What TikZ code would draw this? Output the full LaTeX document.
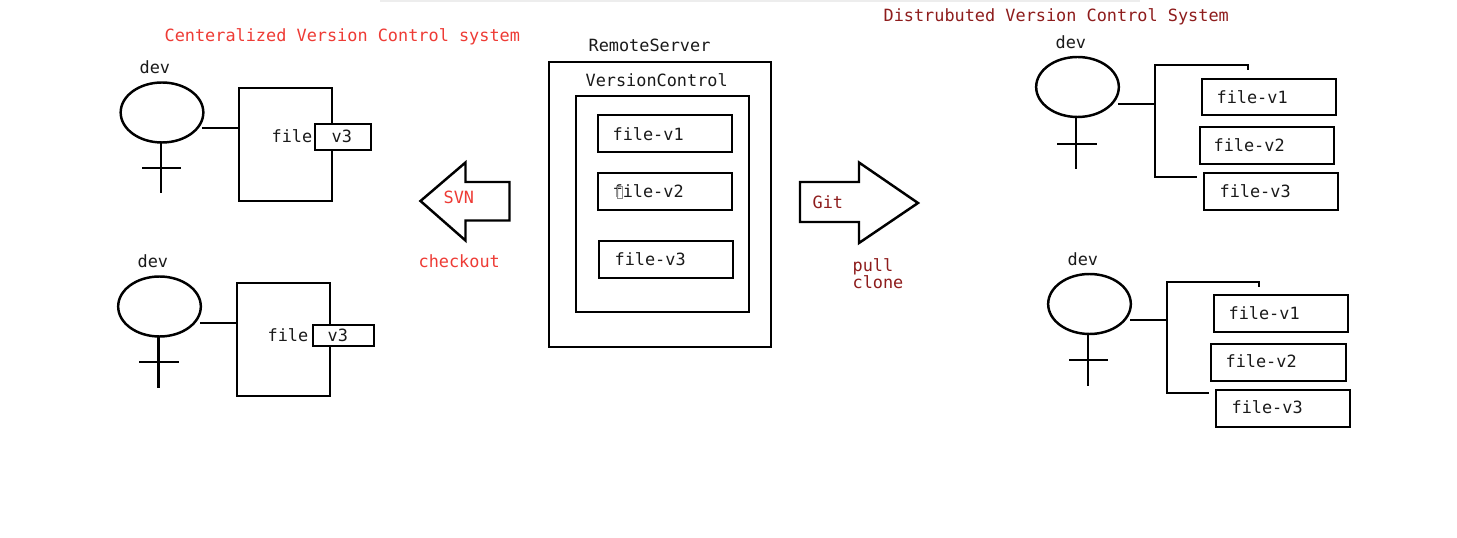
\documentclass[tikz,border=0pt]{standalone}
\usepackage{fontspec}
\setmonofont{DejaVu Sans Mono}
\usetikzlibrary{shapes.geometric}
\definecolor{titlered}{HTML}{EE3B35}
\definecolor{darkred}{HTML}{8E1C1C}
\definecolor{inkblack}{HTML}{1A1A1A}
\tikzset{
  bx/.style={draw=black,fill=white,line width=1.85pt,rectangle,inner sep=0pt,outer sep=0pt},
  head/.style={draw=black,line width=1.85pt,ellipse,inner sep=0pt,outer sep=0pt,minimum width=62pt,minimum height=45pt},
  wire/.style={draw=black,line width=1.85pt},
  lbl/.style={anchor=base west,inner sep=0pt,outer sep=0pt,xshift=-0.3pt,yshift=-0.4pt,font=\ttfamily\fontsize{12.65}{14}\selectfont,text=inkblack},
  redl/.style={lbl,text=titlered},
  darkl/.style={lbl,text=darkred},
  bigarrow/.style={draw=black,fill=white,line width=1.85pt,line join=miter}
}
\newcommand{\pxbox}[5]{%
  \pgfmathsetlengthmacro{\pxw}{0.75pt*(#4-#2)}%
  \pgfmathsetlengthmacro{\pxh}{0.75pt*(#5-#3)}%
  \node[bx,minimum width=\pxw,minimum height=\pxh] (#1) at ({(#2+#4)/2},{(#3+#5)/2}) {};}
% name, head centre x, y, stem x, stem foot y, cross left x, cross right x, cross y
\newcommand{\person}[8]{%
  \node[head] (#1) at (#2,#3) {};
  \coordinate (#1foot) at (#4,#5);
  \coordinate (#1cl) at (#6,#8);
  \coordinate (#1cr) at (#7,#8);
  \draw[wire] (#1.south -| #1foot) -- (#1foot);
  \draw[wire] (#1cl) -- (#1cr);}
\begin{document}
\begin{tikzpicture}[x=0.75pt,y=-0.75pt]
\useasboundingbox (0,0) rectangle (1457,538);
\fill[white] (0,0) rectangle (1457,538);
\fill[black!7] (380,0) rectangle (1140,2.5);

% titles
\node[redl] (t1) at (165,41) {Centeralized Version Control system};
\node[darkl] (t2) at (884,21) {Distrubuted Version Control System};

% left, upper developer
\node[lbl] (d1) at (140,73) {dev};
\person{h1}{162}{112.5}{161}{193}{142}{181}{168}
\pxbox{f1}{239}{88}{332}{201}
\coordinate (h1w) at (202,128);
\draw[wire] (h1w) -- (h1w -| f1.west);
\node[lbl] (f1t) at (272,142) {file};
\pxbox{v1}{315}{124}{371}{150}
\node[lbl] (v1t) at (332,142) {v3};

% left, lower developer
\node[lbl] (d2) at (138,267) {dev};
\person{h2}{159.5}{306.5}{158.5}{388}{139}{179}{362}
\pxbox{f2}{237}{283}{330}{396}
\coordinate (h2w) at (200,323);
\draw[wire] (h2w) -- (h2w -| f2.west);
\node[lbl] (f2t) at (268,341) {file};
\pxbox{v2}{313}{325}{374}{346}
\node[lbl] (v2t) at (328,341) {v3};

% SVN arrow
\draw[bigarrow] (420.5,201) -- (465.5,162.5) -- (465.5,182) -- (509.5,182) -- (509.5,220.5) -- (465.5,220.5) -- (465.5,240.5) -- cycle;
\node[redl] (svn) at (444,203) {SVN};
\node[redl] (co) at (419,267) {checkout};

% centre
\node[lbl] (rs) at (589,51) {RemoteServer};
\pxbox{outer}{549}{62}{771}{347}
\node[lbl] (vc) at (586,86) {VersionControl};
\pxbox{inner}{576}{96}{749}{312}
\pxbox{c1}{598}{115}{732}{152}
\pxbox{c2}{598}{173}{732}{210}
\pxbox{c3}{599}{241}{733}{278}
\node[lbl] (c1t) at (613,140) {file-v1};
\node[lbl] (c2t) at (613,197) {file-v2};
\node[lbl] (c3t) at (615,265) {file-v3};
\draw[black!45,line width=0.5pt] (617,186) rectangle (622,198);

% Git arrow
\draw[bigarrow] (800,182) -- (859,182) -- (859,162.5) -- (918,203) -- (859,243) -- (859,222) -- (800,222) -- cycle;
\node[darkl] (git) at (813,208) {Git};
\node[darkl] (pull) at (853,271) {pull};
\node[darkl] (clone) at (853,288) {clone};

% right, upper developer
\node[lbl] (d3) at (1056,48) {dev};
\person{h3}{1077.5}{87}{1076}{169}{1057}{1097}{144}
\pxbox{r1}{1202}{79}{1336}{115}
\pxbox{r2}{1200}{127}{1334}{164}
\pxbox{r3}{1204}{173}{1338}{210}
\node[lbl] (r1t) at (1217,103) {file-v1};
\node[lbl] (r2t) at (1214,151) {file-v2};
\node[lbl] (r3t) at (1220,197) {file-v3};
\coordinate (h3w) at (1118,104);
\coordinate (j3) at (1155,104);
\coordinate (j3t) at (1248,70);
\coordinate (j3b) at (1197,177);
\draw[wire] (h3w) -- (j3);
\draw[wire] (j3t) -- (j3t |- 0,65) -| (j3) |- (j3b);

% right, lower developer
\node[lbl] (d4) at (1068,265) {dev};
\person{h4}{1089.5}{304}{1088}{386}{1069}{1108}{360}
\pxbox{s1}{1214}{295}{1348}{332}
\pxbox{s2}{1211}{344}{1346}{381}
\pxbox{s3}{1216}{390}{1350}{427}
\node[lbl] (s1t) at (1229,319) {file-v1};
\node[lbl] (s2t) at (1226,367) {file-v2};
\node[lbl] (s3t) at (1232,413) {file-v3};
\coordinate (h4w) at (1130,320);
\coordinate (j4) at (1167,320);
\coordinate (j4t) at (1259,287);
\coordinate (j4b) at (1209,393);
\draw[wire] (h4w) -- (j4);
\draw[wire] (j4t) -- (j4t |- 0,282) -| (j4) |- (j4b);
\end{tikzpicture}
\end{document}
